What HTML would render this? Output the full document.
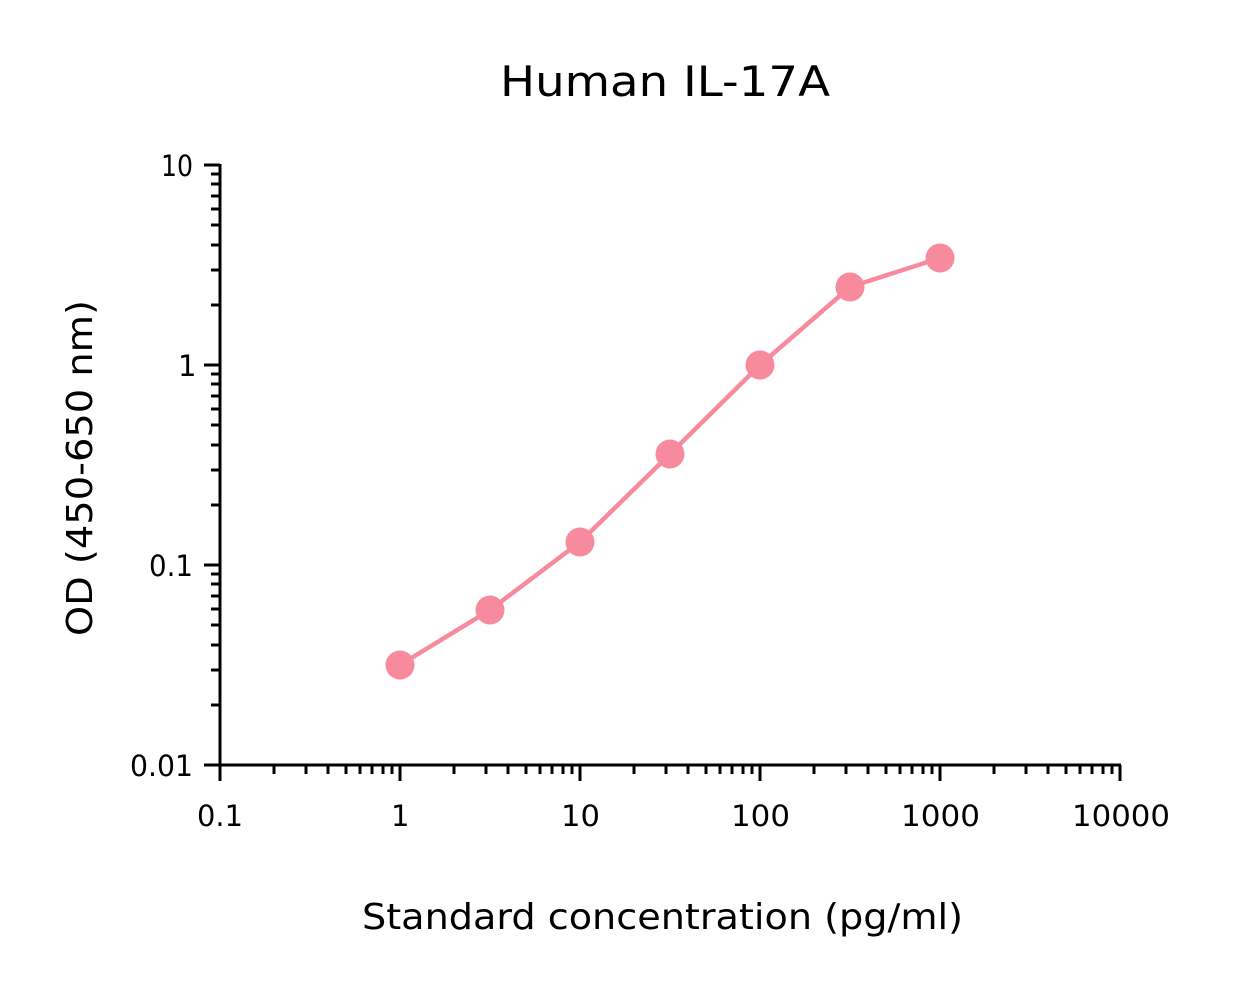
<!DOCTYPE html>
<html><head><style>body{margin:0;background:#fff}svg{display:block}text{font-family:"DejaVu Sans","Liberation Sans",sans-serif;fill:#000}</style></head>
<body>
<svg width="1245" height="987" viewBox="0 0 1245 987" xmlns="http://www.w3.org/2000/svg">
<rect width="1245" height="987" fill="#fff"/>
<text x="500" y="96" font-size="42" textLength="330" lengthAdjust="spacingAndGlyphs">Human IL-17A</text>
<g stroke="#000" stroke-width="3" fill="none">
<path d="M220 164V766M219 765H1121"/>
<path d="M220 765v16M400 765v16M580 765v16M760 765v16M940 765v16M1120 765v16"/>
<path d="M274 765v9M306 765v9M328 765v9M346 765v9M360 765v9M372 765v9M383 765v9M392 765v9
M454 765v9M486 765v9M508 765v9M526 765v9M540 765v9M552 765v9M563 765v9M572 765v9
M634 765v9M666 765v9M688 765v9M706 765v9M720 765v9M732 765v9M743 765v9M752 765v9
M814 765v9M846 765v9M868 765v9M886 765v9M900 765v9M912 765v9M923 765v9M932 765v9
M994 765v9M1026 765v9M1048 765v9M1066 765v9M1080 765v9M1092 765v9M1103 765v9M1112 765v9"/>
<path d="M204 765h16M204 565h16M204 365h16M204 165h16"/>
<path d="M211 705h9M211 670h9M211 645h9M211 625h9M211 609h9M211 596h9M211 584h9M211 574h9
M211 505h9M211 470h9M211 445h9M211 425h9M211 409h9M211 396h9M211 384h9M211 374h9
M211 305h9M211 270h9M211 245h9M211 225h9M211 209h9M211 196h9M211 184h9M211 174h9"/>
</g>
<g font-size="29">
<text x="130" y="776" textLength="63" lengthAdjust="spacingAndGlyphs">0.01</text>
<text x="149" y="576" textLength="44" lengthAdjust="spacingAndGlyphs">0.1</text>
<text x="178" y="376">1</text>
<text x="161" y="176" textLength="32" lengthAdjust="spacingAndGlyphs">10</text>
</g>
<g font-size="29">
<text x="197" y="826" textLength="46" lengthAdjust="spacingAndGlyphs">0.1</text>
<text x="391" y="826">1</text>
<text x="561" y="826" textLength="39" lengthAdjust="spacingAndGlyphs">10</text>
<text x="731" y="826" textLength="59" lengthAdjust="spacingAndGlyphs">100</text>
<text x="901" y="826" textLength="79" lengthAdjust="spacingAndGlyphs">1000</text>
<text x="1072" y="826" textLength="98" lengthAdjust="spacingAndGlyphs">10000</text>
</g>
<text x="362" y="929" font-size="36" textLength="601" lengthAdjust="spacingAndGlyphs">Standard concentration (pg/ml)</text>
<text transform="translate(92,636) rotate(-90)" font-size="36" textLength="336" lengthAdjust="spacingAndGlyphs">OD (450-650 nm)</text>
<polyline points="400,665 490,610 580,542 670,454 760,365 850,287 940,258" fill="none" stroke="#f78b9d" stroke-width="4.5"/>
<g fill="#f78b9d">
<circle cx="400" cy="665" r="14.5"/><circle cx="490" cy="610" r="14.5"/><circle cx="580" cy="542" r="14.5"/><circle cx="670" cy="454" r="14.5"/><circle cx="760" cy="365" r="14.5"/><circle cx="850" cy="287" r="14.5"/><circle cx="940" cy="258" r="14.5"/>
</g>
</svg>
</body></html>
